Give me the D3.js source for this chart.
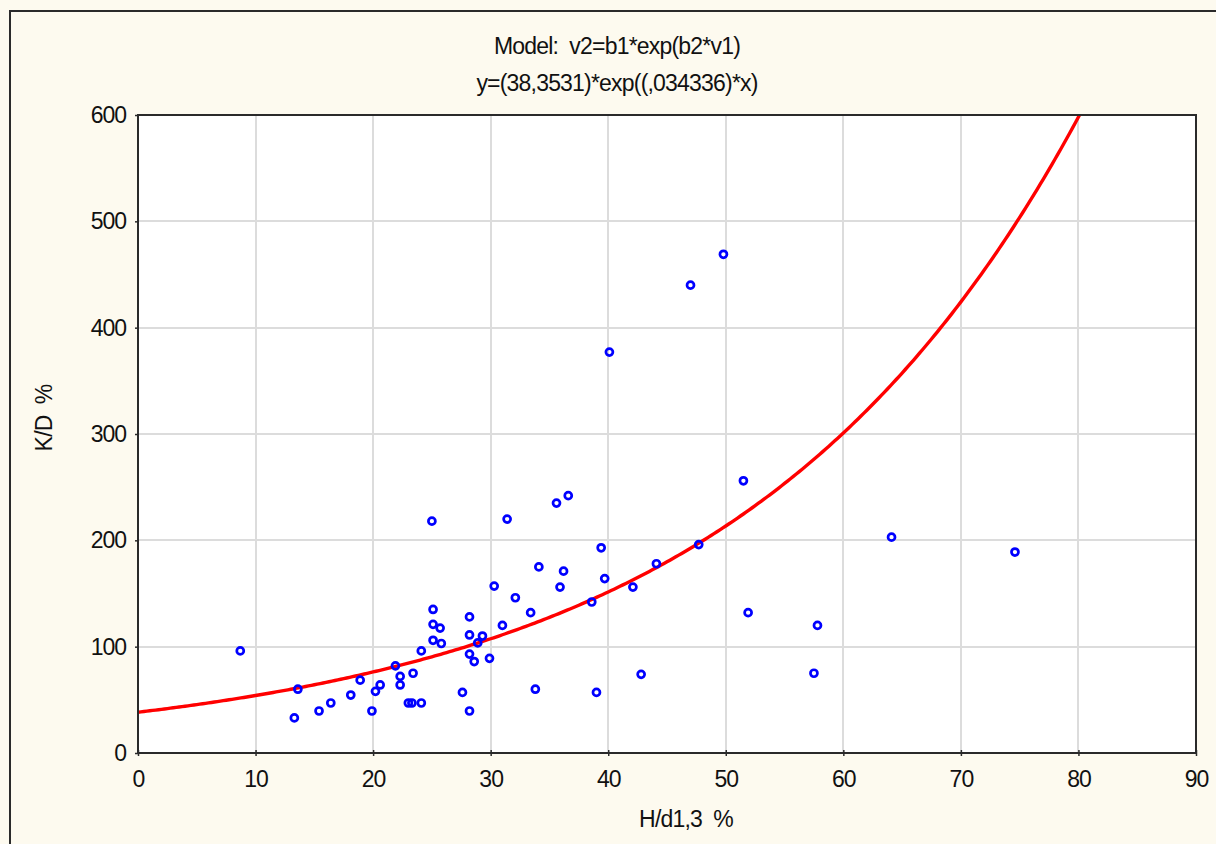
<!DOCTYPE html>
<html>
<head>
<meta charset="utf-8">
<script src="https://cdn.jsdelivr.net/npm/d3@7"></script>
<style>
  html, body { margin: 0; padding: 0; background: #fdfaef; }
  svg { display: block; }
  text { font-family: "Liberation Sans", Arial, sans-serif; fill: #111; }
</style>
</head>
<body>
<script>
// Observed pairs: H/d1,3 (%) against K/D (%)
const hd = [8.7, 13.6, 13.3, 15.4, 16.4, 18.1, 18.9, 19.9, 20.2, 20.6,
            21.9, 22.3, 22.3, 23.0, 23.4, 23.3, 24.1, 24.1, 25.0, 25.1,
            25.1, 25.1, 25.7, 25.8, 27.6, 28.2, 28.2, 28.2, 28.2, 28.6,
            28.9, 29.3, 29.9, 30.3, 31.0, 31.4, 32.1, 33.4, 33.8, 34.1,
            35.6, 35.9, 36.2, 36.6, 38.6, 39.0, 39.4, 39.7, 40.1, 42.1,
            42.8, 44.1, 47.0, 47.7, 49.8, 51.5, 51.9, 57.5, 57.8, 64.1, 74.6];
const kd = [96, 60, 33, 39.5, 47, 54.5, 68.5, 39.5, 58, 64,
            82, 72, 64, 47, 75, 47, 47, 96, 218, 135,
            121, 106, 117.5, 103, 57, 128, 111, 93, 39.5, 86,
            103.5, 110, 89, 157, 120, 220, 146, 132, 60, 175,
            235, 156, 171, 242, 142, 57, 193, 164, 377, 156,
            74, 178, 440, 196, 469, 256, 132, 75, 120, 203, 189];

// Fitted model y = b1 * exp(b2 * x)
const b1 = 38.3531;
const b2 = 0.034336;

const xTicks = [0, 10, 20, 30, 40, 50, 60, 70, 80, 90];
const yTicks = [0, 100, 200, 300, 400, 500, 600];

const W = 1216, H = 844;
const plot = { left: 138, top: 115, right: 1196, bottom: 753 };

const svg = d3.select("body").append("svg").attr("width", W).attr("height", H);

// outer frame
svg.append("rect").attr("x", 10).attr("y", 11).attr("width", W + 20).attr("height", H + 20)
  .attr("fill", "#fdfaef").attr("stroke", "#2a2a2a").attr("stroke-width", 2);

const x = d3.scaleLinear().domain([0, 90]).range([plot.left, plot.right]);
const y = d3.scaleLinear().domain([0, 600]).range([plot.bottom, plot.top]);

// plot area
svg.append("rect").attr("x", plot.left).attr("y", plot.top)
  .attr("width", plot.right - plot.left).attr("height", plot.bottom - plot.top)
  .attr("fill", "#ffffff");

// grid
const grid = svg.append("g").attr("stroke", "#dcdcdc").attr("stroke-width", 2);
grid.selectAll(".gx").data(xTicks.slice(1, -1)).join("line")
  .attr("x1", d => Math.round(x(d))).attr("x2", d => Math.round(x(d)))
  .attr("y1", plot.top).attr("y2", plot.bottom);
grid.selectAll(".gy").data(yTicks.slice(1, -1)).join("line")
  .attr("y1", d => Math.round(y(d))).attr("y2", d => Math.round(y(d)))
  .attr("x1", plot.left).attr("x2", plot.right);

// fitted curve, clipped to the plot area
svg.append("clipPath").attr("id", "clip").append("rect")
  .attr("x", plot.left).attr("y", plot.top)
  .attr("width", plot.right - plot.left).attr("height", plot.bottom - plot.top);
const xs = d3.range(0, 90.01, 0.25);
svg.append("path")
  .attr("clip-path", "url(#clip)")
  .datum(xs)
  .attr("fill", "none").attr("stroke", "#ff0000").attr("stroke-width", 3.4)
  .attr("d", d3.line().x(d => x(d)).y(d => y(b1 * Math.exp(b2 * d))));

// observations
svg.append("g").selectAll("circle").data(d3.range(hd.length)).join("circle")
  .attr("cx", i => x(hd[i])).attr("cy", i => y(kd[i])).attr("r", 3.5)
  .attr("fill", "none").attr("stroke", "#0000ff").attr("stroke-width", 2.7);

// frame around plot area
svg.append("rect").attr("x", plot.left).attr("y", plot.top)
  .attr("width", plot.right - plot.left).attr("height", plot.bottom - plot.top)
  .attr("fill", "none").attr("stroke", "#2a2a2a").attr("stroke-width", 2);

// axes
const xAxis = svg.append("g").attr("transform", `translate(0,${plot.bottom})`)
  .call(d3.axisBottom(x).tickValues(xTicks).tickSize(4).tickPadding(14).tickFormat(d3.format("d")));
const yAxis = svg.append("g").attr("transform", `translate(${plot.left},0)`)
  .call(d3.axisLeft(y).tickValues(yTicks).tickSize(3).tickPadding(9).tickFormat(d3.format("d")));
[xAxis, yAxis].forEach(a => {
  a.select(".domain").remove();
  a.selectAll(".tick line").attr("stroke", "#2a2a2a").attr("stroke-width", 1.5);
  a.selectAll("text").attr("font-size", 23).attr("letter-spacing", "-1px")
    .attr("fill", "#111").attr("font-family", "'Liberation Sans', Arial, sans-serif");
});
xAxis.selectAll(".tick line").attr("y1", -3).attr("y2", 3);

// titles
svg.append("text").attr("x", 617).attr("y", 54).attr("text-anchor", "middle")
  .attr("font-size", 23).attr("letter-spacing", "-0.8px").attr("xml:space", "preserve")
  .text("Model:  v2=b1*exp(b2*v1)");
svg.append("text").attr("x", 617).attr("y", 91).attr("text-anchor", "middle")
  .attr("font-size", 23).attr("letter-spacing", "-0.8px")
  .text("y=(38,3531)*exp((,034336)*x)");

// axis labels
svg.append("text").attr("x", 686).attr("y", 827).attr("text-anchor", "middle")
  .attr("font-size", 23).attr("letter-spacing", "-0.8px").attr("xml:space", "preserve")
  .text("H/d1,3  %");
svg.append("text").attr("transform", "translate(52,418) rotate(-90)").attr("text-anchor", "middle")
  .attr("font-size", 23).attr("letter-spacing", "-0.8px").attr("xml:space", "preserve")
  .text("K/D  %");
</script>
</body>
</html>
